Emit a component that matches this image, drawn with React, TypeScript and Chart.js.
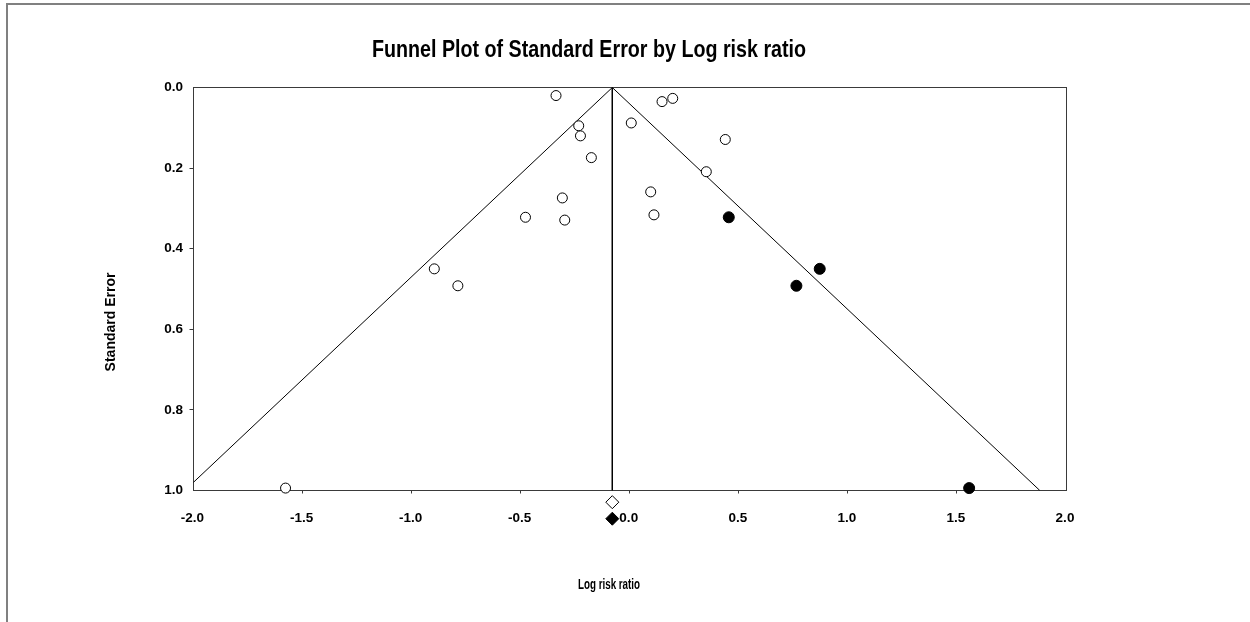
import React, { useEffect, useRef } from "react";
import { Chart, registerables } from "chart.js";

Chart.register(...registerables);

// ---- Texts ----
const TITLE = "Funnel Plot of Standard Error by Log risk ratio";
const X_TITLE = "Log risk ratio";
const Y_TITLE = "Standard Error";

// ---- Tick values ----
const X_TICKS = [-2.0, -1.5, -1.0, -0.5, 0.0, 0.5, 1.0, 1.5, 2.0];
const Y_TICKS = [0.0, 0.2, 0.4, 0.6, 0.8, 1.0];

// ---- Observed studies (open circles) ----
const observedLogRR = [
  -0.338, -0.234, -0.226, -0.176, -0.309, -0.478, -0.298, 0.148, 0.197, 0.007,
  0.438, 0.351, 0.096, 0.111, -1.578, -0.896, -0.788,
];
const observedSE = [
  0.02, 0.095, 0.12, 0.174, 0.274, 0.322, 0.329, 0.035, 0.027, 0.088, 0.129,
  0.209, 0.259, 0.316, 0.994, 0.45, 0.492,
];

// ---- Imputed studies (filled circles, trim and fill) ----
const imputedLogRR = [0.454, 0.871, 0.764, 1.556];
const imputedSE = [0.322, 0.45, 0.492, 0.994];

// ---- Combined effect line & funnel limits ----
const meanLineX = [-0.08, -0.08];
const meanLineSE = [0, 1];
const funnelLeftX = [-0.08, -2.04];
const funnelRightX = [-0.08, 1.88];
const funnelSE = [0, 1];

// ---- Summary diamonds (below the axis) ----
const observedDiamondX = [-0.08];
const observedDiamondSE = [1.029];
const adjustedDiamondX = [-0.08];
const adjustedDiamondSE = [1.07];

const zip = (xs: number[], ys: number[]) => xs.map((x, i) => ({ x, y: ys[i] }));

const FONT_REG = "'Liberation Sans', Arial, sans-serif";

const drawCondensed = (
  ctx: CanvasRenderingContext2D,
  text: string,
  x: number,
  y: number,
  font: string,
  squeeze: number
) => {
  ctx.save();
  ctx.font = font;
  ctx.translate(x, y);
  ctx.scale(squeeze, 1);
  ctx.fillText(text, 0, 0);
  ctx.restore();
};

const decorPlugin = {
  id: "decor",
  beforeDraw(chart: any) {
    const ctx = chart.ctx;
    ctx.save();
    ctx.fillStyle = "#ffffff";
    ctx.fillRect(0, 0, chart.width, chart.height);
    ctx.strokeStyle = "#808080";
    ctx.lineWidth = 2;
    ctx.beginPath();
    ctx.moveTo(7, chart.height);
    ctx.lineTo(7, 4);
    ctx.lineTo(chart.width, 4);
    ctx.stroke();
    ctx.restore();
  },
  afterDatasetsDraw(chart: any) {
    // summary diamonds sit below the plot frame: draw their elements without the chart-area cut
    const ctx = chart.ctx;
    const wide = { left: -1e4, top: -1e4, right: 1e4, bottom: 1e4 };
    chart.data.datasets.forEach((ds: any, i: number) => {
      if (!ds.belowAxis) return;
      const meta = chart.getDatasetMeta(i);
      meta.data.forEach((el: any) => el.draw(ctx, wide));
    });
  },
  afterDraw(chart: any) {
    const ctx = chart.ctx;
    ctx.save();
    ctx.fillStyle = "#000000";
    ctx.textAlign = "center";
    ctx.textBaseline = "middle";
    drawCondensed(ctx, TITLE, 589, 50, `bold 24px ${FONT_REG}`, 0.82);
    drawCondensed(ctx, X_TITLE, 609, 585, `bold 14px ${FONT_REG}`, 0.7);
    ctx.translate(111, 322);
    ctx.rotate(-Math.PI / 2);
    ctx.font = `bold 14px ${FONT_REG}`;
    ctx.fillText(Y_TITLE, 0, 0);
    ctx.restore();
  },
};

const FRAME = "#3a3a3a";

export default function App() {
  const ref = useRef<HTMLCanvasElement | null>(null);

  useEffect(() => {
    if (!ref.current) return;
    const chart = new Chart(ref.current, {
      type: "scatter",
      data: {
        datasets: [
          {
            label: "Observed",
            data: zip(observedLogRR, observedSE),
            pointStyle: "circle",
            pointRadius: 5,
            pointBorderWidth: 1,
            pointBorderColor: "#000",
            pointBackgroundColor: "#fff",
            clip: false,
            order: 2,
          },
          {
            label: "Imputed",
            data: zip(imputedLogRR, imputedSE),
            pointStyle: "circle",
            pointRadius: 5.5,
            pointBorderWidth: 1,
            pointBorderColor: "#000",
            pointBackgroundColor: "#000",
            clip: false,
            order: 1,
          },
          {
            label: "Observed combined",
            data: zip(observedDiamondX, observedDiamondSE),
            pointStyle: "rectRot",
            pointRadius: 6.5,
            pointBorderWidth: 1,
            pointBorderColor: "#000",
            pointBackgroundColor: "#fff",
            clip: false,
            belowAxis: true,
            order: 1,
          },
          {
            label: "Adjusted combined",
            data: zip(adjustedDiamondX, adjustedDiamondSE),
            pointStyle: "rectRot",
            pointRadius: 6.5,
            pointBorderWidth: 1,
            pointBorderColor: "#000",
            pointBackgroundColor: "#000",
            clip: false,
            belowAxis: true,
            order: 1,
          },
          {
            label: "Mean",
            data: zip(meanLineX, meanLineSE),
            showLine: true,
            borderColor: "#000",
            borderWidth: 1,
            pointRadius: 0,
            clip: 0,
            order: 10,
          },
          {
            label: "Funnel left",
            data: zip(funnelLeftX, funnelSE),
            showLine: true,
            borderColor: "#000",
            borderWidth: 1,
            pointRadius: 0,
            clip: 0,
            order: 10,
          },
          {
            label: "Funnel right",
            data: zip(funnelRightX, funnelSE),
            showLine: true,
            borderColor: "#000",
            borderWidth: 1,
            pointRadius: 0,
            clip: 0,
            order: 10,
          },
        ],
      },
      options: {
        responsive: false,
        animation: false,
        devicePixelRatio: 1,
        events: [],
        layout: { padding: { left: 0, top: 87.5, right: 184, bottom: 0 } },
        plugins: {
          legend: { display: false },
          tooltip: { enabled: false },
          title: { display: false },
        },
        scales: {
          x: {
            type: "linear",
            position: "bottom",
            min: -2,
            max: 2,
            afterBuildTicks: (s: any) => {
              s.ticks = X_TICKS.map((v) => ({ value: v }));
            },
            afterFit: (s: any) => {
              s.height = 131.5;
              s.paddingLeft = 0;
              s.paddingRight = 0;
            },
            ticks: {
              autoSkip: false,
              maxRotation: 0,
              color: "#000",
              padding: 17,
              labelOffset: -1,
              font: { family: FONT_REG, size: 13.5, weight: "bold" },
              callback: (v: any) => Number(v).toFixed(1),
            },
            grid: {
              drawOnChartArea: false,
              drawTicks: true,
              tickLength: 3,
              tickColor: (c: any) =>
                c.tick && (c.tick.value === -2 || c.tick.value === 2) ? "rgba(0,0,0,0)" : FRAME,
            },
            border: { display: true, color: FRAME, width: 1 },
          },
          x2: {
            type: "linear",
            position: "top",
            min: -2,
            max: 2,
            afterFit: (s: any) => {
              s.height = 0;
              s.paddingLeft = 0;
              s.paddingRight = 0;
            },
            ticks: { display: false },
            grid: { drawOnChartArea: false, drawTicks: false },
            border: { display: true, color: FRAME, width: 1 },
          },
          y: {
            type: "linear",
            position: "left",
            min: 0,
            max: 1,
            reverse: true,
            afterBuildTicks: (s: any) => {
              s.ticks = Y_TICKS.map((v) => ({ value: v }));
            },
            afterFit: (s: any) => {
              s.width = 193.5;
              s.paddingTop = 0;
              s.paddingBottom = 0;
            },
            ticks: {
              color: "#000",
              padding: 6.5,
              font: { family: FONT_REG, size: 13.5, weight: "bold" },
              callback: (v: any) => Number(v).toFixed(1),
            },
            grid: {
              drawOnChartArea: false,
              drawTicks: true,
              tickLength: 4,
              tickColor: (c: any) =>
                c.tick && (c.tick.value === 0 || c.tick.value === 1) ? "rgba(0,0,0,0)" : FRAME,
            },
            border: { display: true, color: FRAME, width: 1 },
          },
          y2: {
            type: "linear",
            position: "right",
            min: 0,
            max: 1,
            reverse: true,
            afterFit: (s: any) => {
              s.width = 0;
              s.paddingTop = 0;
              s.paddingBottom = 0;
            },
            ticks: { display: false },
            grid: { drawOnChartArea: false, drawTicks: false },
            border: { display: true, color: FRAME, width: 1 },
          },
        },
      },
      plugins: [decorPlugin],
    } as any);
    return () => chart.destroy();
  }, []);

  return (
    <div style={{ position: "fixed", left: 0, top: 0, width: 1250, height: 622, background: "#fff" }}>
      <canvas ref={ref} width={1250} height={622} style={{ display: "block", width: 1250, height: 622 }} />
    </div>
  );
}
